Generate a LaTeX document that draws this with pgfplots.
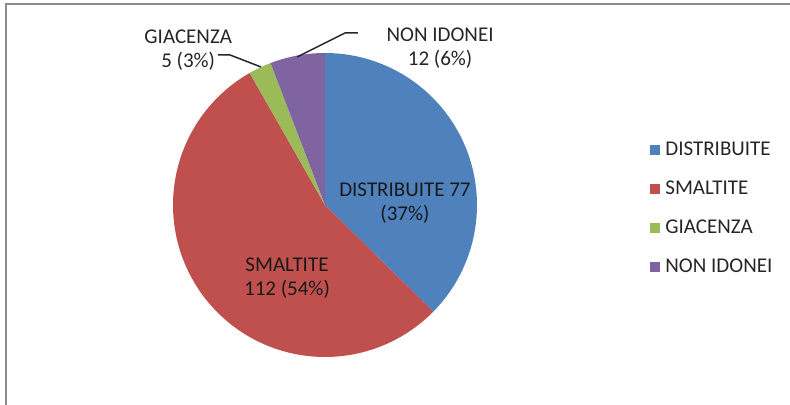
\documentclass[border=0pt]{standalone}
\usepackage{fontspec}
\setmainfont{Carlito}
\usepackage{pgfplots}
\pgfplotsset{compat=1.18}

\definecolor{cdist}{HTML}{4F81BD}
\definecolor{csmal}{HTML}{C0504D}
\definecolor{cgiac}{HTML}{9BBB59}
\definecolor{cnoni}{HTML}{8064A2}
\definecolor{frame}{HTML}{8C8C8C}

% slice values
\def\vDist{77}
\def\vSmal{112}
\def\vGiac{5}
\def\vNoni{12}

\begin{document}
\begin{tikzpicture}[font=\fontsize{10.5bp}{12bp}\selectfont]
\path[use as bounding box] (0,0) rectangle (395bp,202.5bp);
\draw[frame, line width=1bp] (3bp,0) -- (3bp,200.5bp) -- (395bp,200.5bp);

\pgfmathsetmacro{\tot}{\vDist+\vSmal+\vGiac+\vNoni}
\pgfmathsetmacro{\aA}{90}
\pgfmathsetmacro{\aB}{\aA-\vDist/\tot*360}
\pgfmathsetmacro{\aC}{\aB-\vSmal/\tot*360}
\pgfmathsetmacro{\aD}{\aC-\vGiac/\tot*360}
\pgfmathsetmacro{\aE}{\aD-\vNoni/\tot*360}

\begin{axis}[
  at={(162.5bp,100bp)}, anchor=center,
  scale only axis, width=152bp, height=152bp,
  xmin=-1, xmax=1, ymin=-1, ymax=1,
  hide axis, clip=false,
  legend cell align=left,
  legend image code/.code={\fill[#1] (0bp,-2.5bp) rectangle (5bp,2.5bp);},
  legend style={draw=none, fill=none, inner sep=0pt,
    at={(1.569,0.718)}, anchor=north west,
    row sep=9bp, column sep=2.5bp,
    nodes={inner sep=0pt, text height=8bp, text depth=2.5bp, text=black!85}},
]
\addplot[draw=none, fill=cdist, domain=\aB:\aA, samples=80]
  ({cos(x)},{sin(x)}) -- (axis cs:0,0) -- cycle;
\addplot[draw=none, fill=csmal, domain=\aC:\aB, samples=100]
  ({cos(x)},{sin(x)}) -- (axis cs:0,0) -- cycle;
\addplot[draw=none, fill=cgiac, domain=\aD:\aC, samples=10]
  ({cos(x)},{sin(x)}) -- (axis cs:0,0) -- cycle;
\addplot[draw=none, fill=cnoni, domain=\aE:\aD, samples=20]
  ({cos(x)},{sin(x)}) -- (axis cs:0,0) -- cycle;
\legend{DISTRIBUITE, SMALTITE, GIACENZA, NON IDONEI}

% leader lines
\addplot[black!85, line width=0.75bp] coordinates {(-0.704,0.987) (-0.625,0.987) (-0.421,0.908)};
\addplot[black!85, line width=0.75bp] coordinates {(0.217,1.132) (0.132,1.132) (-0.184,0.974)};

% data labels
\node[align=center, text=black!90] at (axis cs:0.526,0.013) {DISTRIBUITE 77\\(37\%)};
\node[align=center, text=black!90] at (axis cs:-0.25,-0.484) {SMALTITE\\112 (54\%)};
\node[align=center, text=black!85] at (axis cs:-0.90,1.02) {GIACENZA\\5 (3\%)};
\node[align=center, text=black!85] at (axis cs:0.757,1.03) {NON IDONEI\\12 (6\%)};
\end{axis}
\end{tikzpicture}
\end{document}
